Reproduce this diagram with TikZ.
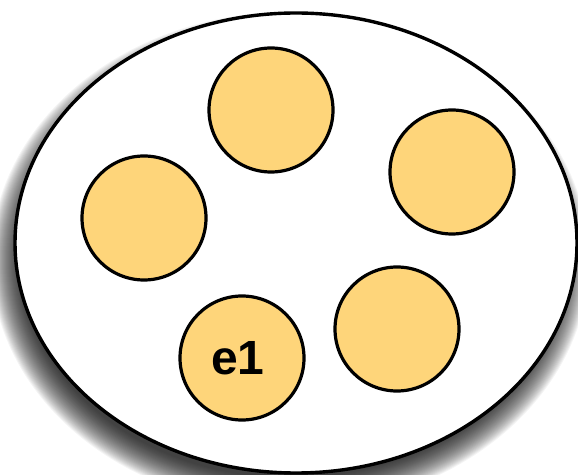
\documentclass[tikz,border=0pt]{standalone}
\usepackage{fontspec}
\setmainfont{Liberation Sans}
\usetikzlibrary{shapes.geometric}
\definecolor{ballfill}{RGB}{254,213,122}
\tikzset{
  ball/.style={circle, draw=black, line width=3.2pt, fill=ballfill, minimum size=124pt, inner sep=0pt, font=\fontsize{48}{48}\selectfont\bfseries},
  setshape/.style={draw=black, line width=3.4pt, fill=white}
}
\begin{document}
\begin{tikzpicture}[x=1pt,y=1pt]
\useasboundingbox (0,0) rectangle (578,474);
% blurred shadow
\foreach \s in {18,17,...,-12}{
  \fill[black, opacity=0.045] (290,214) ellipse ({281+\s} and {230+\s});
}
\node[setshape, ellipse, minimum width=562pt, minimum height=460pt, inner sep=0pt] (set) at (296,231) {};
\node[ball] (top) at (271,364) {};
\node[ball] (right) at (452,302) {};
\node[ball] (left) at (144,256) {};
\node[ball] (bright) at (397,145) {};
\node[ball] (e1) at (242,116) {\raisebox{-3pt}{e1}\hspace*{8pt}};
\end{tikzpicture}
\end{document}
